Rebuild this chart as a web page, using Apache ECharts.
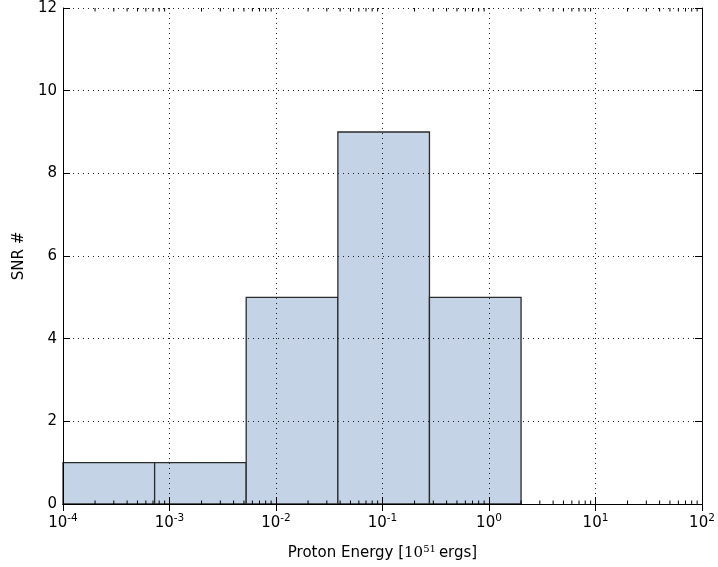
<!DOCTYPE html>
<html>
<head>
<meta charset="utf-8">
<script src="https://cdn.jsdelivr.net/npm/echarts@6/dist/echarts.min.js"></script>
<style>html,body{margin:0;padding:0;background:#fff;}#c{width:718px;height:567px;}</style>
</head>
<body>
<div id="c"></div>
<script>
// Histogram bin edges (log-spaced) and counts
var binEdges = [1e-4, 7.25e-4, 5.25e-3, 3.81e-2, 0.276, 2.0];
var counts = [1, 1, 5, 9, 5];
var xMin = 1e-4, xMax = 1e2;
var yTicks = [0, 2, 4, 6, 8, 10, 12];

var bins = counts.map(function (c, i) { return [binEdges[i], binEdges[i + 1], c]; });

var FONT = 'DejaVu Sans';
function logLabel(v) {
  var e = Math.round(Math.log10(v));
  return '{b|10}{s|' + e + '}';
}
var richLbl = {
  b: { fontFamily: FONT, fontSize: 15, color: '#000' },
  s: { fontFamily: FONT, fontSize: 10.5, color: '#000', verticalAlign: 'top', padding: [0, 0, 9, 0] }
};

var chart = echarts.init(document.getElementById('c'), null, { renderer: 'canvas' });
var frameLine = { show: true, lineStyle: { color: '#000', width: 1 } };
var dotted = { show: true, lineStyle: { color: '#222', type: [1, 4], width: 1 } };

chart.setOption({
  animation: false,
  backgroundColor: '#fff',
  grid: { left: 63, right: 16, top: 8, bottom: 63, containLabel: false },
  xAxis: [{
    type: 'log', logBase: 10, min: xMin, max: xMax, splitNumber: 6,
    position: 'bottom',
    axisLine: frameLine,
    axisTick: { show: true, inside: true, length: 7, lineStyle: { color: '#000' } },
    axisLabel: { formatter: logLabel, rich: richLbl, margin: 9, showMinLabel: true, showMaxLabel: true },
    splitLine: dotted,
    name: '{t|Proton Energy [}{m|10}{ms|51}{t|ergs]}',
    nameLocation: 'middle', nameGap: 40,
    nameTextStyle: {
      rich: {
        t: { fontFamily: FONT, fontSize: 15, color: '#000' },
        m: { fontFamily: 'DejaVu Serif', fontSize: 15, color: '#000' },
        ms: { fontFamily: 'DejaVu Serif', fontSize: 10, color: '#000', verticalAlign: 'top', padding: [0, 3, 9, 0] }
      }
    }
  }, {
    type: 'log', logBase: 10, min: xMin, max: xMax, splitNumber: 6,
    position: 'top',
    axisLine: frameLine,
    axisTick: { show: true, inside: true, length: 7, lineStyle: { color: '#000' } },
    axisLabel: { show: false },
    splitLine: { show: false }
  }],
  yAxis: [{
    type: 'value', min: 0, max: 12, interval: 2,
    position: 'left',
    axisLine: frameLine,
    axisTick: { show: true, inside: true, length: 7, lineStyle: { color: '#000' } },
    axisLabel: { fontFamily: FONT, fontSize: 15, color: '#000', margin: 6,
      formatter: function (v) { return yTicks.indexOf(v) >= 0 ? String(v) : ''; } },
    splitLine: dotted,
    name: 'SNR #', nameLocation: 'middle', nameGap: 36, nameRotate: 90,
    nameTextStyle: { fontFamily: FONT, fontSize: 15, color: '#000' }
  }, {
    type: 'value', min: 0, max: 12, interval: 2,
    position: 'right',
    axisLine: frameLine,
    axisTick: { show: true, inside: true, length: 7, lineStyle: { color: '#000' } },
    axisLabel: { show: false },
    splitLine: { show: false }
  }],
  series: [{
    type: 'custom',
    z: -1,
    xAxisIndex: 0, yAxisIndex: 0,
    data: bins,
    encode: { x: [0, 1], y: 2 },
    renderItem: function (params, api) {
      var p0 = api.coord([api.value(0), 0]);
      var p1 = api.coord([api.value(1), api.value(2)]);
      return {
        type: 'rect',
        shape: { x: p0[0], y: p1[1], width: p1[0] - p0[0], height: p0[1] - p1[1] },
        style: { fill: '#c4d3e5', stroke: '#2b2b2b', lineWidth: 1.3 }
      };
    }
  }, {
    // minor log ticks (2..9 of each decade) on bottom and top
    type: 'custom',
    xAxisIndex: 0, yAxisIndex: 0,
    data: [[xMin, 0]],
    clip: false,
    silent: true,
    renderItem: function (params, api) {
      var children = [];
      var lo = Math.round(Math.log10(xMin)), hi = Math.round(Math.log10(xMax));
      var yb = api.coord([xMin, 0])[1];
      var yt = api.coord([xMin, 12])[1];
      for (var d = lo; d < hi; d++) {
        for (var k = 2; k <= 9; k++) {
          var x = api.coord([k * Math.pow(10, d), 0])[0];
          children.push({ type: 'line', shape: { x1: x, y1: yb, x2: x, y2: yb - 3.5 }, style: { stroke: '#000', lineWidth: 1 } });
          children.push({ type: 'line', shape: { x1: x, y1: yt, x2: x, y2: yt + 3.5 }, style: { stroke: '#000', lineWidth: 1 } });
        }
      }
      return { type: 'group', children: children };
    }
  }]
});
</script>
</body>
</html>
